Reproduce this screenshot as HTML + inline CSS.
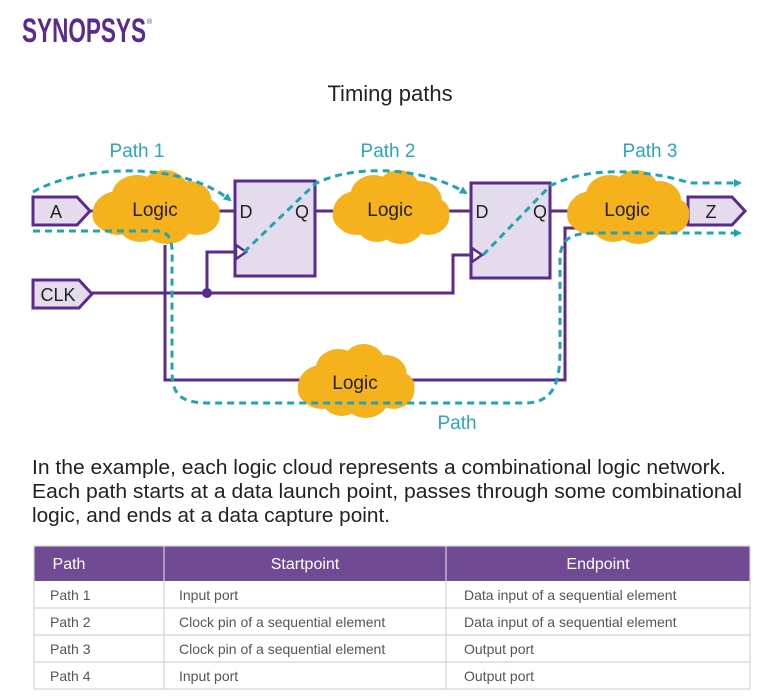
<!DOCTYPE html>
<html><head><meta charset="utf-8"><style>
html,body{margin:0;padding:0;background:#fff;}
svg{display:block;}
text{font-family:"Liberation Sans",sans-serif;}
</style></head><body>
<svg width="773" height="699" viewBox="0 0 773 699" xmlns="http://www.w3.org/2000/svg">
<defs>
<g id="cloud">
<circle cx="-30" cy="5" r="22"/><circle cx="-15" cy="-12" r="21"/><circle cx="8" cy="-19" r="19"/><circle cx="28" cy="-8" r="19"/><circle cx="35" cy="8" r="19"/><circle cx="10" cy="15" r="21"/><circle cx="-12" cy="15" r="19"/><circle cx="-38" cy="8" r="14"/><circle cx="40" cy="4" r="14"/>
</g>
<marker id="ar" markerWidth="8" markerHeight="8" refX="6" refY="4" orient="auto" markerUnits="userSpaceOnUse"><path d="M0,0 L8,4 L0,8 z" fill="#1ea4b4"/></marker>
</defs>
<!-- logo -->
<text x="22" y="42" font-size="34" font-weight="bold" fill="#5b2a8c" textLength="124" lengthAdjust="spacingAndGlyphs" style="font-family:'Liberation Sans Narrow','Liberation Sans',sans-serif">SYNOPSYS</text>
<text x="147" y="24" font-size="7" fill="#5b2a8c">®</text>
<text x="390" y="101" font-size="22" fill="#222" text-anchor="middle">Timing paths</text>
<g font-size="19" fill="#2aa8b8" text-anchor="middle">
<text x="137" y="157">Path 1</text><text x="388" y="157">Path 2</text><text x="650" y="157">Path 3</text><text x="457" y="429">Path</text>
</g>
<!-- wires -->
<g stroke="#5b2a8c" stroke-width="3" fill="none">
<line x1="90" y1="211" x2="235" y2="211"/>
<line x1="315" y1="211" x2="471" y2="211"/>
<line x1="550" y1="211" x2="688" y2="211"/>
<polyline points="92,293 453,293 453,255 471,255"/>
<polyline points="207,293 207,252 235,252"/>
<polyline points="165,245 165,380 565,380 565,228 600,228"/>
</g>
<circle cx="207" cy="293" r="5" fill="#5b2a8c"/>
<!-- ports -->
<g fill="#e4dced" stroke="#5b2a8c" stroke-width="3">
<polygon points="33,197 77,197 90,211 77,225 33,225"/>
<polygon points="33,280 79,280 92,294 79,308 33,308"/>
<polygon points="688,197 732,197 745,211 732,225 688,225"/>
<rect x="235" y="181" width="80" height="95"/>
<rect x="471" y="183" width="79" height="95"/>
</g>
<g fill="#fff" stroke="#5b2a8c" stroke-width="2.5">
<polygon points="236,245 246,252 236,259"/>
<polygon points="472,248 482,255 472,262"/>
</g>
<g font-size="18" fill="#222" text-anchor="middle">
<text x="56" y="218">A</text><text x="58" y="301">CLK</text><text x="711" y="218">Z</text>
<text x="246" y="218">D</text><text x="302" y="218">Q</text>
<text x="482" y="218">D</text><text x="540" y="218">Q</text>
</g>
<!-- clouds -->
<g fill="#f6b21c">
<use href="#cloud" transform="translate(155,208) scale(1.2,1)"/>
<use href="#cloud" transform="translate(390,208) scale(1.1,1)"/>
<use href="#cloud" transform="translate(627,208) scale(1.15,1)"/>
<use href="#cloud" transform="translate(355,382) scale(1.1,1)"/>
</g>
<g font-size="19" fill="#222" text-anchor="middle">
<text x="155" y="216">Logic</text><text x="390" y="216">Logic</text><text x="627" y="216">Logic</text><text x="355" y="389">Logic</text>
</g>
<!-- dashed paths -->
<g stroke="#1ea4b4" stroke-width="3" fill="none" stroke-dasharray="7,5">
<path d="M33,192 C80,165 180,160 230,200" marker-end="url(#ar)"/>
<path d="M33,231 L158,231 C175,233 172,250 172,270 L172,370 C172,395 180,403 210,403 L525,403 C555,403 560,380 560,350 L560,260 C560,235 575,233 600,233 L740,233" marker-end="url(#ar)"/>
<path d="M244,252 L315,184 C350,165 420,165 466,193" marker-end="url(#ar)"/>
<path d="M483,255 L550,186 C590,165 650,170 690,183 L740,183" marker-end="url(#ar)"/>
</g>
<!-- paragraph -->
<g font-size="20" fill="#222" style="font-family:'Liberation Sans Narrow','Liberation Sans',sans-serif">
<text x="32" y="474" textLength="694" lengthAdjust="spacingAndGlyphs">In the example, each logic cloud represents a combinational logic network.</text>
<text x="32" y="498" textLength="710" lengthAdjust="spacingAndGlyphs">Each path starts at a data launch point, passes through some combinational</text>
<text x="32" y="522" textLength="358" lengthAdjust="spacingAndGlyphs">logic, and ends at a data capture point.</text>
</g>
<!-- table -->
<rect x="34" y="546" width="716" height="35" fill="#704a93"/>
<g stroke="#d4d4d4" stroke-width="1.2" fill="none">
<rect x="34" y="546" width="716" height="143"/>
<line x1="34" y1="608" x2="750" y2="608"/><line x1="34" y1="635" x2="750" y2="635"/><line x1="34" y1="662" x2="750" y2="662"/>
<line x1="164" y1="546" x2="164" y2="689"/><line x1="446" y1="546" x2="446" y2="689"/>
</g>
<g font-size="16" fill="#fff" text-anchor="middle">
<text x="69" y="569">Path</text><text x="305" y="569">Startpoint</text><text x="598" y="569">Endpoint</text>
</g>
<g font-size="14" fill="#555">
<text x="50" y="600">Path 1</text><text x="179" y="600">Input port</text><text x="464" y="600">Data input of a sequential element</text>
<text x="50" y="627">Path 2</text><text x="179" y="627">Clock pin of a sequential element</text><text x="464" y="627">Data input of a sequential element</text>
<text x="50" y="654">Path 3</text><text x="179" y="654">Clock pin of a sequential element</text><text x="464" y="654">Output port</text>
<text x="50" y="681">Path 4</text><text x="179" y="681">Input port</text><text x="464" y="681">Output port</text>
</g>
</svg>
</body></html>
